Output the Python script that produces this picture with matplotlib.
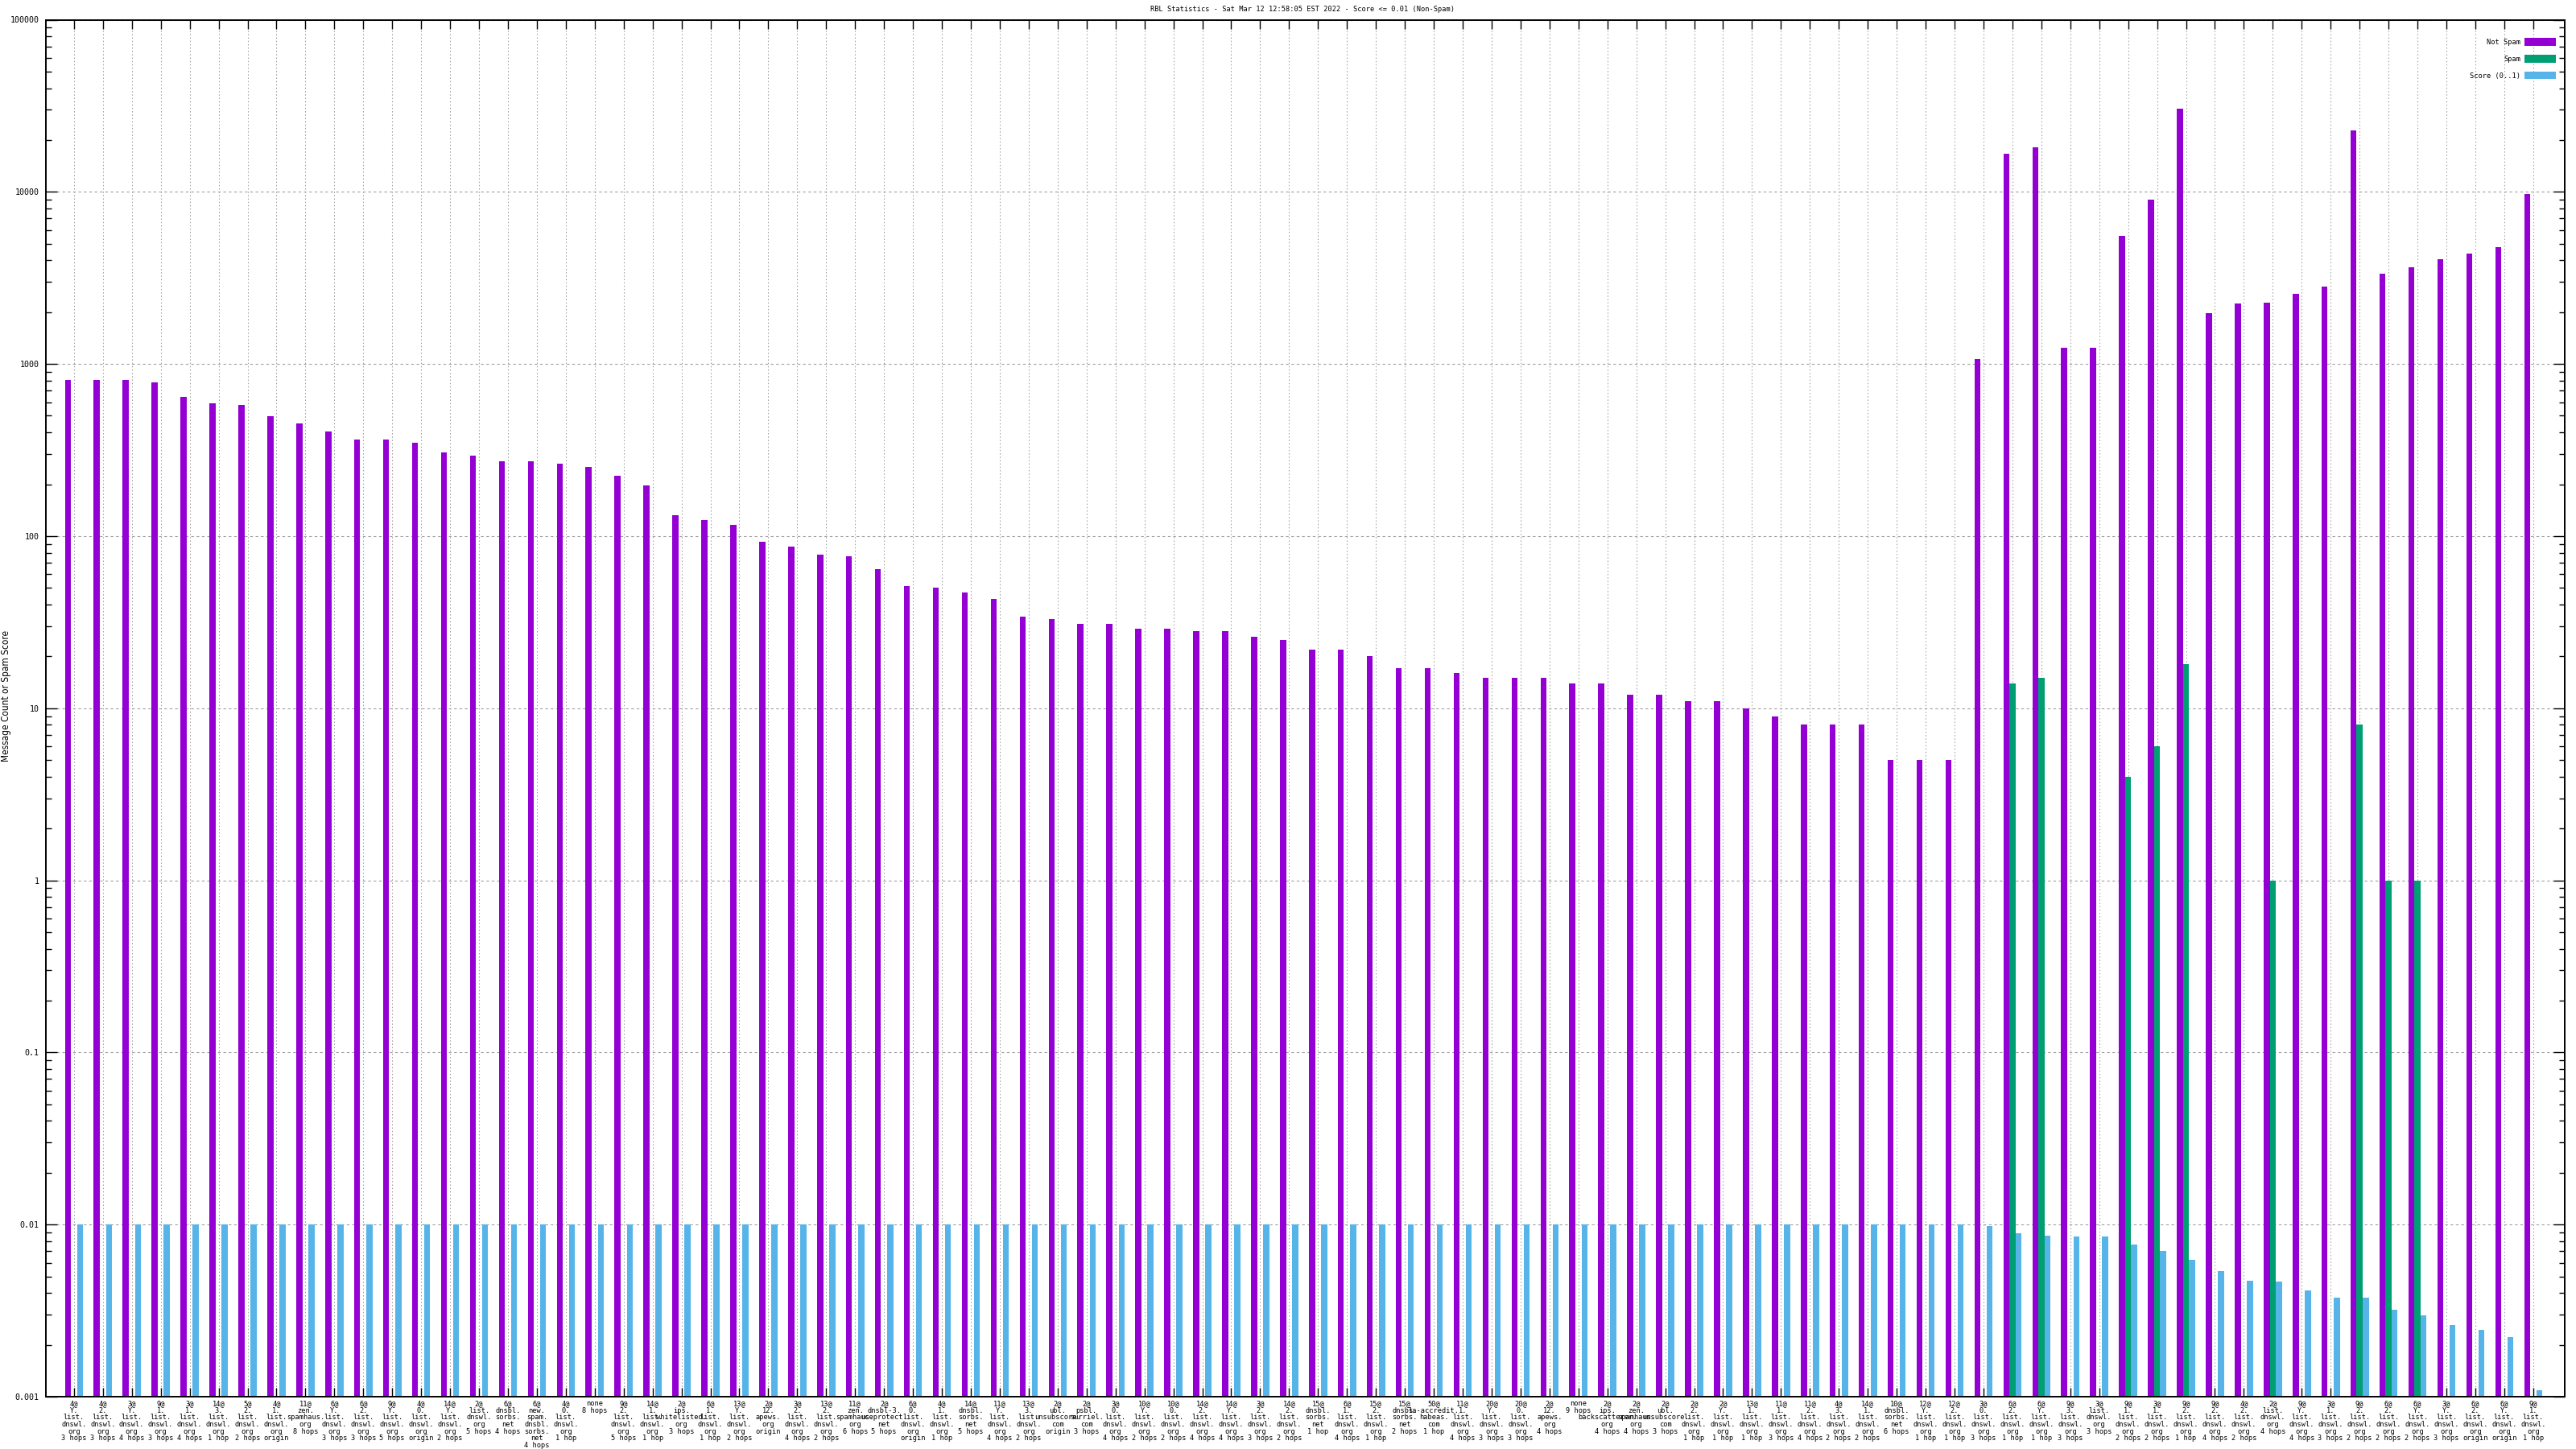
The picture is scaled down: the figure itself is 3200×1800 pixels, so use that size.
import matplotlib
matplotlib.use('Agg')
import matplotlib.pyplot as plt
from matplotlib.ticker import LogLocator, NullFormatter
import numpy as np


title = 'RBL Statistics - Sat Mar 12 12:58:05 EST 2022 - Score <= 0.01 (Non-Spam)'

labels = [
    '4@\nY.\nlist.\ndnswl.\norg\n3 hops', '4@\n2.\nlist.\ndnswl.\norg\n3 hops',
    '3@\nY.\nlist.\ndnswl.\norg\n4 hops', '9@\n1.\nlist.\ndnswl.\norg\n3 hops',
    '3@\n1.\nlist.\ndnswl.\norg\n4 hops', '14@\n3.\nlist.\ndnswl.\norg\n1 hop',
    '5@\n2.\nlist.\ndnswl.\norg\n2 hops', '4@\n1.\nlist.\ndnswl.\norg\norigin',
    '11@\nzen.\nspamhaus.\norg\n8 hops', '6@\nY.\nlist.\ndnswl.\norg\n3 hops',
    '6@\n2.\nlist.\ndnswl.\norg\n3 hops', '9@\nY.\nlist.\ndnswl.\norg\n5 hops',
    '4@\n0.\nlist.\ndnswl.\norg\norigin', '14@\nY.\nlist.\ndnswl.\norg\n2 hops',
    '2@\nlist.\ndnswl.\norg\n5 hops', '6@\ndnsbl.\nsorbs.\nnet\n4 hops',
    '6@\nnew.\nspam.\ndnsbl.\nsorbs.\nnet\n4 hops', '4@\n0.\nlist.\ndnswl.\norg\n1 hop',
    'none\n8 hops', '9@\n2.\nlist.\ndnswl.\norg\n5 hops',
    '14@\n1.\nlist.\ndnswl.\norg\n1 hop', '2@\nips.\nwhitelisted.\norg\n3 hops',
    '6@\n1.\nlist.\ndnswl.\norg\n1 hop', '13@\nY.\nlist.\ndnswl.\norg\n2 hops',
    '2@\n12.\napews.\norg\norigin', '3@\n2.\nlist.\ndnswl.\norg\n4 hops',
    '13@\n2.\nlist.\ndnswl.\norg\n2 hops', '11@\nzen.\nspamhaus.\norg\n6 hops',
    '2@\ndnsbl-3.\nuceprotect.\nnet\n5 hops', '6@\n0.\nlist.\ndnswl.\norg\norigin',
    '4@\n1.\nlist.\ndnswl.\norg\n1 hop', '14@\ndnsbl.\nsorbs.\nnet\n5 hops',
    '11@\nY.\nlist.\ndnswl.\norg\n4 hops', '13@\n3.\nlist.\ndnswl.\norg\n2 hops',
    '2@\nubl.\nunsubscore.\ncom\norigin', '2@\npsbl.\nsurriel.\ncom\n3 hops',
    '3@\n0.\nlist.\ndnswl.\norg\n4 hops', '10@\nY.\nlist.\ndnswl.\norg\n2 hops',
    '10@\n0.\nlist.\ndnswl.\norg\n2 hops', '14@\n2.\nlist.\ndnswl.\norg\n4 hops',
    '14@\nY.\nlist.\ndnswl.\norg\n4 hops', '3@\n2.\nlist.\ndnswl.\norg\n3 hops',
    '14@\n2.\nlist.\ndnswl.\norg\n2 hops', '15@\ndnsbl.\nsorbs.\nnet\n1 hop',
    '6@\n1.\nlist.\ndnswl.\norg\n4 hops', '15@\n2.\nlist.\ndnswl.\norg\n1 hop',
    '15@\ndnsbl.\nsorbs.\nnet\n2 hops', '50@\nsa-accredit.\nhabeas.\ncom\n1 hop',
    '11@\n1.\nlist.\ndnswl.\norg\n4 hops', '20@\nY.\nlist.\ndnswl.\norg\n3 hops',
    '20@\n0.\nlist.\ndnswl.\norg\n3 hops', '2@\n12.\napews.\norg\n4 hops',
    'none\n9 hops', '2@\nips.\nbackscatterer.\norg\n4 hops',
    '2@\nzen.\nspamhaus.\norg\n4 hops', '2@\nubl.\nunsubscore.\ncom\n3 hops',
    '2@\n2.\nlist.\ndnswl.\norg\n1 hop', '2@\nY.\nlist.\ndnswl.\norg\n1 hop',
    '13@\n1.\nlist.\ndnswl.\norg\n1 hop', '11@\n1.\nlist.\ndnswl.\norg\n3 hops',
    '11@\n2.\nlist.\ndnswl.\norg\n4 hops', '4@\n3.\nlist.\ndnswl.\norg\n2 hops',
    '14@\n1.\nlist.\ndnswl.\norg\n2 hops', '10@\ndnsbl.\nsorbs.\nnet\n6 hops',
    '12@\nY.\nlist.\ndnswl.\norg\n1 hop', '12@\n2.\nlist.\ndnswl.\norg\n1 hop',
    '3@\n0.\nlist.\ndnswl.\norg\n3 hops', '6@\n2.\nlist.\ndnswl.\norg\n1 hop',
    '6@\nY.\nlist.\ndnswl.\norg\n1 hop', '9@\n3.\nlist.\ndnswl.\norg\n3 hops',
    '3@\nlist.\ndnswl.\norg\n3 hops', '9@\n1.\nlist.\ndnswl.\norg\n2 hops',
    '3@\n1.\nlist.\ndnswl.\norg\n2 hops', '9@\n2.\nlist.\ndnswl.\norg\n1 hop',
    '9@\n2.\nlist.\ndnswl.\norg\n4 hops', '4@\n2.\nlist.\ndnswl.\norg\n2 hops',
    '2@\nlist.\ndnswl.\norg\n4 hops', '9@\nY.\nlist.\ndnswl.\norg\n4 hops',
    '3@\n1.\nlist.\ndnswl.\norg\n3 hops', '9@\n2.\nlist.\ndnswl.\norg\n2 hops',
    '6@\n2.\nlist.\ndnswl.\norg\n2 hops', '6@\nY.\nlist.\ndnswl.\norg\n2 hops',
    '3@\nY.\nlist.\ndnswl.\norg\n3 hops', '6@\n2.\nlist.\ndnswl.\norg\norigin',
    '6@\nY.\nlist.\ndnswl.\norg\norigin', '9@\n1.\nlist.\ndnswl.\norg\n1 hop',
]

not_spam = [
    810, 810, 805, 785, 644, 590, 577, 495, 453, 406,
    364, 364, 348, 305, 292, 273, 273, 262, 251, 224,
    197, 132, 124, 116, 93, 87, 78, 76, 64, 51,
    50, 47, 43, 34, 33, 31, 31, 29, 29, 28,
    28, 26, 25, 22, 22, 20, 17, 17, 16, 15,
    15, 15, 14, 14, 12, 12, 11, 11, 10, 9,
    8, 8, 8, 5, 5, 5,
    1070, 16650, 18140, 1245, 1245, 5555, 9015, 30400, 1977, 2250,
    2275, 2560, 2820, 22750, 3337, 3640, 4066, 4360, 4780, 9720,
]

spam = [
    0, 0, 0, 0, 0, 0, 0, 0, 0, 0,
    0, 0, 0, 0, 0, 0, 0, 0, 0, 0,
    0, 0, 0, 0, 0, 0, 0, 0, 0, 0,
    0, 0, 0, 0, 0, 0, 0, 0, 0, 0,
    0, 0, 0, 0, 0, 0, 0, 0, 0, 0,
    0, 0, 0, 0, 0, 0, 0, 0, 0, 0,
    0, 0, 0, 0, 0, 0,
    0, 14, 15, 0, 0, 4, 6, 18, 0, 0,
    1, 0, 0, 8, 1, 1, 0, 0, 0, 0,
]

score = [
    0.01, 0.01, 0.01, 0.01, 0.01, 0.01, 0.01, 0.01, 0.01, 0.01,
    0.01, 0.01, 0.01, 0.01, 0.01, 0.01, 0.01, 0.01, 0.01, 0.01,
    0.01, 0.01, 0.01, 0.01, 0.01, 0.01, 0.01, 0.01, 0.01, 0.01,
    0.01, 0.01, 0.01, 0.01, 0.01, 0.01, 0.01, 0.01, 0.01, 0.01,
    0.01, 0.01, 0.01, 0.01, 0.01, 0.01, 0.01, 0.01, 0.01, 0.01,
    0.01, 0.01, 0.01, 0.01, 0.01, 0.01, 0.01, 0.01, 0.01, 0.01,
    0.01, 0.01, 0.01, 0.01, 0.01, 0.01,
    0.0098, 0.0089, 0.00865, 0.00848, 0.00848, 0.00763, 0.0070, 0.00622, 0.00535, 0.00469,
    0.00467, 0.00414, 0.00375, 0.00375, 0.0032, 0.00296, 0.00261, 0.00245, 0.00221, 0.00109,
]

series_names = ['Not Spam', 'Spam', 'Score (0..1)']
colors = ['#9400d3', '#009e73', '#56b4e9']

plt.rcParams['font.family'] = ['DejaVu Sans Mono', 'DejaVu Sans']

fig = plt.figure(figsize=(32, 18), dpi=100)
ax = fig.add_axes([57 / 3200, 1 - 1735 / 1800, (3186 - 57) / 3200, (1735 - 24.5) / 1800])

ymin = 0.001
x = np.arange(len(labels))
width = 0.21
for i, (vals, name, c) in enumerate(zip([not_spam, spam, score], series_names, colors)):
    v = np.array(vals, dtype=float)
    keep = v > 0
    ax.bar(x[keep] + (i - 1) * width, v[keep] - ymin, width=width, bottom=ymin,
           color=c, label=name, linewidth=0, zorder=2)

ax.set_yscale('log')
ax.set_ylim(ymin, 100000)
ax.set_xlim(-0.97, len(labels) - 1 + 1.09)

ax.yaxis.set_minor_locator(LogLocator(base=10, subs=np.arange(2, 10), numticks=20))
ax.yaxis.set_minor_formatter(NullFormatter())
ax.set_yticks([0.001, 0.01, 0.1, 1, 10, 100, 1000, 10000, 100000])
ax.set_yticklabels(['0.001', '0.01', '0.1', '1', '10', '100', '1000', '10000', '100000'],
                   fontsize=7.2)

ax.set_xticks(x)
ax.set_xticklabels(labels, fontsize=6.2, linespacing=0.95, va='top')

ax.tick_params(axis='both', which='both', direction='in', top=True, right=True,
               width=1.0, color='black')
ax.tick_params(axis='y', which='major', length=10, pad=6)
ax.tick_params(axis='y', which='minor', length=5)
ax.tick_params(axis='x', which='major', length=8, pad=3)

ax.grid(True, axis='y', which='major', color='#a0a0a0', linestyle=(0, (3, 3)), linewidth=0.8)
ax.grid(True, axis='x', which='major', color='#a0a0a0', linestyle=(0, (1.5, 2.5)), linewidth=0.75)
ax.set_axisbelow(True)

for s in ax.spines.values():
    s.set_linewidth(1.4)

fig.text(0.5056, 1 - 12 / 1800, title, ha='center', va='center', fontsize=6.2)
fig.text(8 / 3200, 0.52, 'Message Count or Spam Score', rotation=90,
         ha='center', va='center', fontsize=8.5, family='DejaVu Sans', fontstretch='condensed')

ax.legend(loc='upper right', bbox_to_anchor=(0.9965, 0.9866), frameon=False,
          markerfirst=False, fontsize=6.2, handlelength=4.5, handleheight=1.3,
          handletextpad=0.6, labelspacing=1.3, borderpad=0, borderaxespad=0)

plt.savefig('out.png', dpi=100)
